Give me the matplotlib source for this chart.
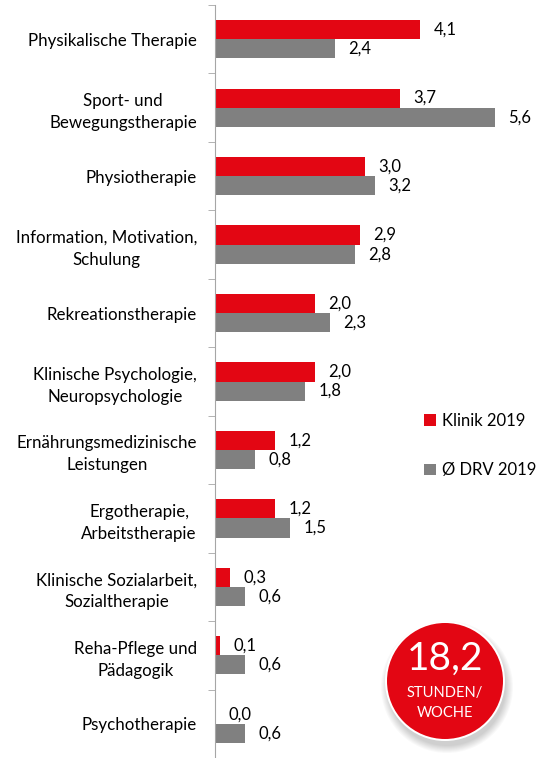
import matplotlib.pyplot as plt
import numpy as np
from matplotlib.patches import Circle

categories = ['Physikalische Therapie', 'Sport- und\nBewegungstherapie', 'Physiotherapie',
              'Information, Motivation,\nSchulung', 'Rekreationstherapie',
              'Klinische Psychologie,\nNeuropsychologie', 'Ernährungsmedizinische\nLeistungen',
              'Ergotherapie,\nArbeitstherapie', 'Klinische Sozialarbeit,\nSozialtherapie',
              'Reha-Pflege und\nPädagogik', 'Psychotherapie']
klinik = [4.1, 3.7, 3.0, 2.9, 2.0, 2.0, 1.2, 1.2, 0.3, 0.1, 0.0]
drv = [2.4, 5.6, 3.2, 2.8, 2.3, 1.8, 0.8, 1.5, 0.6, 0.6, 0.6]
series_names = ['Klinik 2019', 'Ø DRV 2019']
total = '18,2'

RED = '#e30613'
GREY = '#808080'
plt.rcParams['font.family'] = ['Lato', 'DejaVu Sans']

fig = plt.figure(figsize=(5.36, 7.58), dpi=100)
ax = fig.add_axes([215/536, 0, 1 - 215/536, 753/758])

y = np.arange(len(categories))
h = 0.28
ax.barh(y - h/2, klinik, height=h, color=RED, label=series_names[0])
ax.barh(y + h/2, drv, height=h, color=GREY, label=series_names[1])

for i in range(len(categories)):
    ax.text(klinik[i] + 0.27, y[i] - h/2, f'{klinik[i]:.1f}'.replace('.', ','),
            va='center', ha='left', fontsize=12)
    ax.text(drv[i] + 0.27, y[i] + h/2, f'{drv[i]:.1f}'.replace('.', ','),
            va='center', ha='left', fontsize=12)

ax.set_xlim(0, 321/50)
ax.set_ylim(len(categories) - 0.5, -0.5)
ax.set_xticks([])
ax.set_yticks(y)
ax.set_yticklabels(categories, fontsize=12.2, ha='right', multialignment='center',
                   linespacing=1.45)
ax.tick_params(axis='y', length=0, pad=13)
ax.set_yticks(np.arange(len(categories) + 1) - 0.5, minor=True)
ax.tick_params(axis='y', which='minor', length=5, color='#a6a6a6', direction='out')
for s in ['top', 'right', 'bottom']:
    ax.spines[s].set_visible(False)
ax.spines['left'].set_color('#a6a6a6')

leg = fig.legend(loc='upper left', bbox_to_anchor=(424/536, 1 - 413/758), frameon=False,
                 fontsize=12, handlelength=0.7, handleheight=0.7, handletextpad=0.4,
                 labelspacing=2.0, borderaxespad=0, borderpad=0)

# red badge with shadow
cx, cy, r = 445, 681, 58
fig_ax = fig.add_axes([0, 0, 1, 1], zorder=5)
fig_ax.set_xlim(0, 536)
fig_ax.set_ylim(758, 0)
fig_ax.set_aspect('equal')
fig_ax.axis('off')
for k in range(8):
    fig_ax.add_patch(Circle((cx + 2, cy + 6), r + 1 + k, color='#000000', alpha=0.025, lw=0))
fig_ax.add_patch(Circle((cx, cy), r + 2, color='white', lw=0))
fig_ax.add_patch(Circle((cx, cy), r, color=RED, lw=0))
fig_ax.text(cx, cy - 22, total, color='white', fontsize=28, ha='center', va='center')
fig_ax.text(cx, cy + 12, 'STUNDEN/', color='white', fontsize=10.5, ha='center', va='center')
fig_ax.text(cx, cy + 32, 'WOCHE', color='white', fontsize=10.5, ha='center', va='center')

fig.savefig('out.png', dpi=100)
